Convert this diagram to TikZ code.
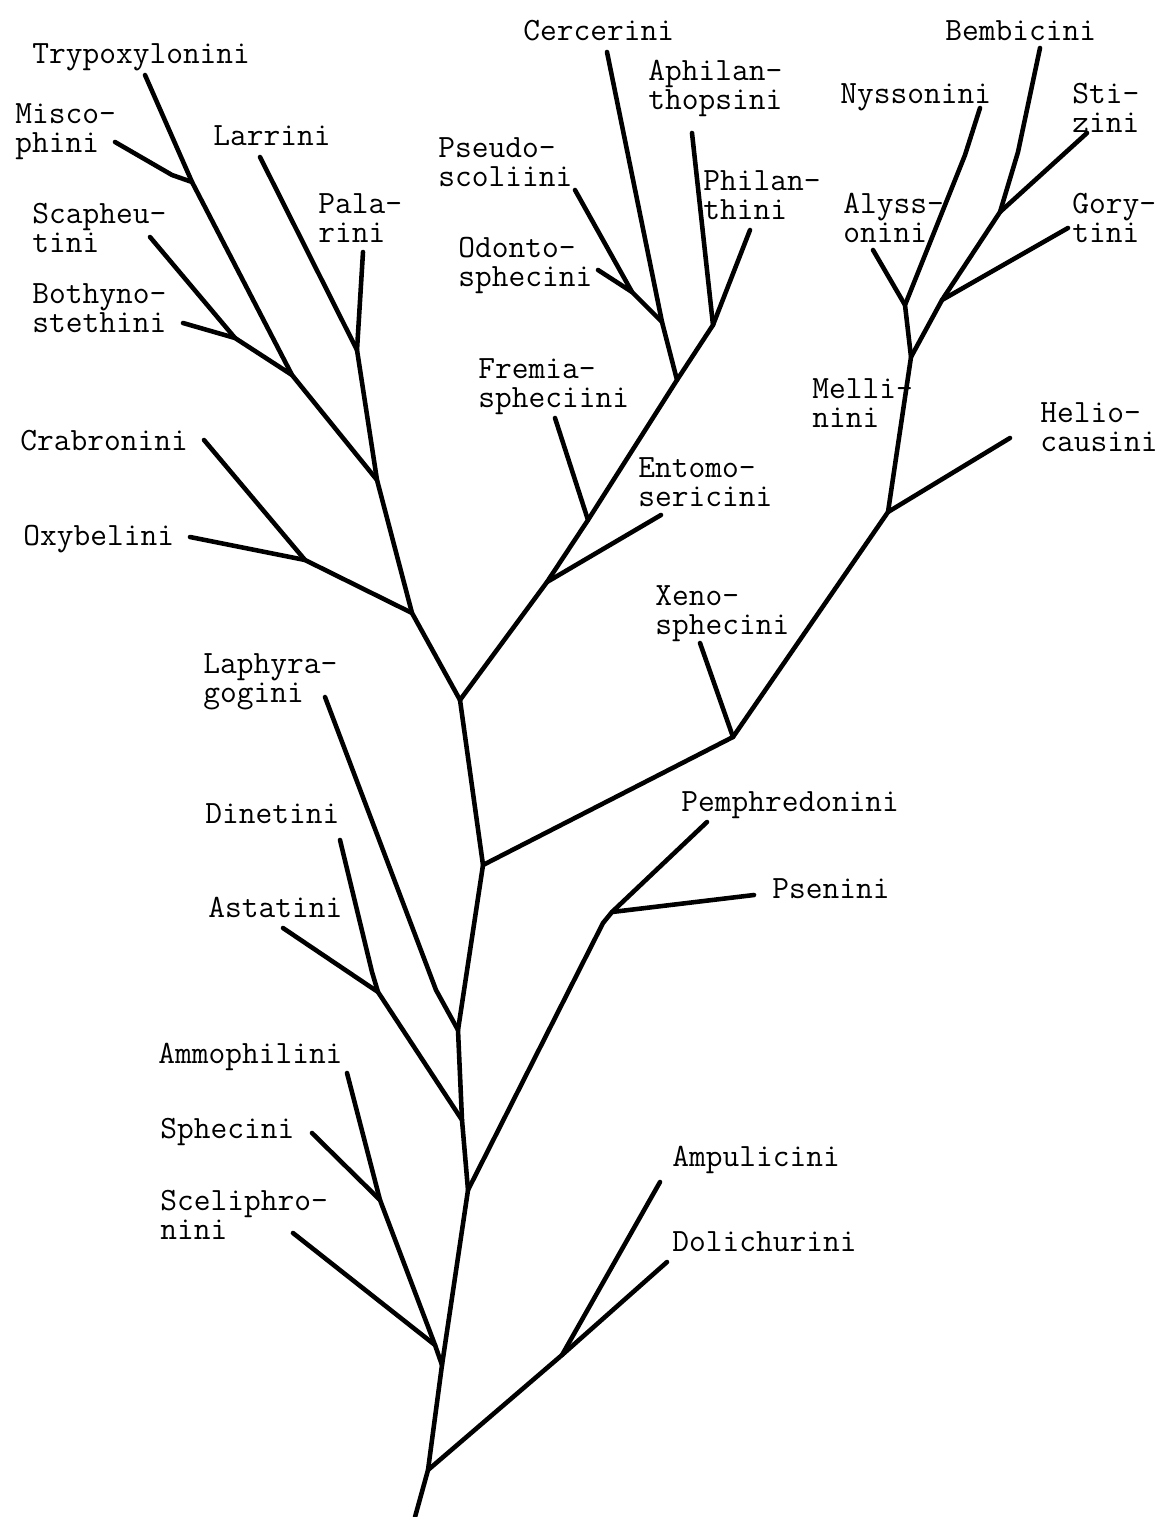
\documentclass[tikz,border=0pt]{standalone}
\usepackage{tikz}
\usetikzlibrary{positioning,calc}

\begin{document}
\begin{tikzpicture}[
        x=0.02cm, y=-0.02cm, % coordenadas en pixeles del dibujo original
        rama/.style={line width=2.6pt, line cap=round, line join=round},
        taxon/.style={anchor=north west, inner sep=0pt, align=left,
            font=\ttfamily\fontsize{18.5}{16.5}\selectfont}
    ]

        \useasboundingbox (0,0) rectangle (1165,1517);

        % --- TRONCO PRINCIPAL ---
        \coordinate (base) at (415,1517);
        \coordinate (nA) at (428,1470);
        \coordinate (nC) at (442,1365);
        \coordinate (nD) at (468,1190);
        \coordinate (nE) at (462,1120);
        \coordinate (nF) at (458,1030);
        \coordinate (nH) at (483,865);
        \coordinate (nL) at (460,700);
        \draw[rama] (base) -- (nA) -- (nC) -- (nD) -- (nE) -- (nF) -- (nH) -- (nL);

        % --- AMPULICIDAE ---
        \coordinate (nB) at (562,1355);
        \coordinate (lAmpu) at (660,1182);
        \coordinate (lDoli) at (667,1262);
        \draw[rama] (nA) -- (nB) -- (lAmpu);
        \draw[rama] (nB) -- (lDoli);

        % --- SPHECINAE ---
        \coordinate (nSph) at (380,1200);
        \coordinate (nSc) at (435,1345);
        \coordinate (lAmmo) at (347,1073);
        \coordinate (lSphe) at (312,1133);
        \coordinate (lScel) at (293,1233);
        \draw[rama] (nC) -- (nSc) -- (nSph) -- (lAmmo);
        \draw[rama] (nSph) -- (lSphe);
        \draw[rama] (nSc) -- (lScel);

        % --- ASTATINAE Y LAPHYRAGOGINI ---
        \coordinate (nAs) at (378,992);
        \coordinate (lAsta) at (283,928);
        \coordinate (kDine) at (372,972);
        \coordinate (lDine) at (340,840);
        \coordinate (kLaph) at (436,990);
        \coordinate (lLaph) at (325,697);
        \draw[rama] (nE) -- (nAs) -- (lAsta);
        \draw[rama] (nAs) -- (kDine) -- (lDine);
        \draw[rama] (nF) -- (kLaph) -- (lLaph);

        % --- PEMPHREDONINAE ---
        \coordinate (kG) at (603,923);
        \coordinate (nG) at (612,912);
        \coordinate (lPemp) at (707,822);
        \coordinate (lPsen) at (754,895);
        \draw[rama] (nD) -- (kG) -- (nG) -- (lPemp);
        \draw[rama] (nG) -- (lPsen);

        % --- NYSSONINAE ---
        \coordinate (nI) at (733,737);
        \coordinate (lXeno) at (700,643);
        \coordinate (nJ) at (888,512);
        \coordinate (lHeli) at (1010,438);
        \coordinate (nK) at (911,357);
        \coordinate (nAN) at (905,305);
        \coordinate (lAlys) at (873,250);
        \coordinate (kNyss) at (965,155);
        \coordinate (lNyss) at (980,108);
        \coordinate (nGo) at (942,300);
        \coordinate (lGory) at (1068,228);
        \coordinate (nSB) at (1000,212);
        \coordinate (lStiz) at (1087,133);
        \coordinate (kBemb) at (1018,152);
        \coordinate (lBemb) at (1040,48);
        \draw[rama] (nH) -- (nI) -- (nJ) -- (nK) -- (nAN) -- (kNyss) -- (lNyss);
        \draw[rama] (nI) -- (lXeno);
        \draw[rama] (nJ) -- (lHeli);
        \draw[rama] (nAN) -- (lAlys);
        \draw[rama] (nK) -- (nGo) -- (nSB) -- (kBemb) -- (lBemb);
        \draw[rama] (nGo) -- (lGory);
        \draw[rama] (nSB) -- (lStiz);

        % --- PHILANTHINAE ---
        \coordinate (nM) at (547,582);
        \coordinate (lEnto) at (661,515);
        \coordinate (nN) at (588,520);
        \coordinate (lFrem) at (555,418);
        \coordinate (nO) at (677,380);
        \coordinate (nCP) at (662,322);
        \coordinate (lCerc) at (607,52);
        \coordinate (nPO) at (632,292);
        \coordinate (lPseu) at (575,190);
        \coordinate (lOdon) at (598,270);
        \coordinate (nAP) at (713,325);
        \coordinate (lAphi) at (692,133);
        \coordinate (lPhil) at (750,230);
        \draw[rama] (nL) -- (nM) -- (nN) -- (nO) -- (nCP) -- (lCerc);
        \draw[rama] (nM) -- (lEnto);
        \draw[rama] (nN) -- (lFrem);
        \draw[rama] (nCP) -- (nPO) -- (lPseu);
        \draw[rama] (nPO) -- (lOdon);
        \draw[rama] (nO) -- (nAP) -- (lAphi);
        \draw[rama] (nAP) -- (lPhil);

        % --- CRABRONINAE ---
        \coordinate (nP) at (412,613);
        \coordinate (nCO) at (305,560);
        \coordinate (lCrab) at (204,440);
        \coordinate (lOxyb) at (190,537);
        \coordinate (nQ) at (377,480);
        \coordinate (nR) at (357,350);
        \coordinate (lPala) at (363,252);
        \coordinate (lLarr) at (260,157);
        \coordinate (nS) at (292,375);
        \coordinate (nTM) at (192,182);
        \coordinate (lTryp) at (145,75);
        \coordinate (kMisc) at (172,175);
        \coordinate (lMisc) at (115,142);
        \coordinate (nSB2) at (235,338);
        \coordinate (lScap) at (150,237);
        \coordinate (lBoth) at (183,323);
        \draw[rama] (nL) -- (nP) -- (nQ) -- (nR) -- (lPala);
        \draw[rama] (nR) -- (lLarr);
        \draw[rama] (nP) -- (nCO) -- (lCrab);
        \draw[rama] (nCO) -- (lOxyb);
        \draw[rama] (nQ) -- (nS) -- (nTM) -- (lTryp);
        \draw[rama] (nTM) -- (kMisc) -- (lMisc);
        \draw[rama] (nS) -- (nSB2) -- (lScap);
        \draw[rama] (nSB2) -- (lBoth);

        % --- NOMBRES DE LAS TRIBUS ---
        \node[taxon] (tTryp) at (32,43) {Trypoxylonini};
        \node[taxon] (tMisc) at (15,103) {Misco-\\phini};
        \node[taxon] (tLarr) at (213,125) {Larrini};
        \node[taxon] (tPala) at (318,193) {Pala-\\rini};
        \node[taxon] (tScap) at (32,203) {Scapheu-\\tini};
        \node[taxon] (tBoth) at (32,283) {Bothyno-\\stethini};
        \node[taxon] (tCrab) at (20,430) {Crabronini};
        \node[taxon] (tOxyb) at (23,525) {Oxybelini};
        \node[taxon] (tLaph) at (203,653) {Laphyra-\\gogini};
        \node[taxon] (tDine) at (205,803) {Dinetini};
        \node[taxon] (tAsta) at (208,897) {Astatini};
        \node[taxon] (tAmmo) at (158,1043) {Ammophilini};
        \node[taxon] (tSphe) at (160,1118) {Sphecini};
        \node[taxon] (tScel) at (160,1190) {Sceliphro-\\nini};
        \node[taxon] (tAmpu) at (672,1146) {Ampulicini};
        \node[taxon] (tDoli) at (672,1231) {Dolichurini};
        \node[taxon] (tPemp) at (681,791) {Pemphredonini};
        \node[taxon] (tPsen) at (772,878) {Psenini};
        \node[taxon] (tXeno) at (655,585) {Xeno-\\sphecini};
        \node[taxon] (tEnto) at (638,457) {Entomo-\\sericini};
        \node[taxon] (tFrem) at (478,358) {Fremia-\\spheciini};
        \node[taxon] (tOdon) at (458,237) {Odonto-\\sphecini};
        \node[taxon] (tPseu) at (438,137) {Pseudo-\\scoliini};
        \node[taxon] (tCerc) at (523,20) {Cercerini};
        \node[taxon] (tAphi) at (648,60) {Aphilan-\\thopsini};
        \node[taxon] (tPhil) at (703,170) {Philan-\\thini};
        \node[taxon] (tNyss) at (840,83) {Nyssonini};
        \node[taxon] (tBemb) at (945,20) {Bembicini};
        \node[taxon] (tStiz) at (1072,83) {Sti-\\zini};
        \node[taxon] (tAlys) at (843,193) {Alyss-\\onini};
        \node[taxon] (tGory) at (1072,193) {Gory-\\tini};
        \node[taxon] (tMell) at (812,378) {Melli-\\nini};
        \node[taxon] (tHeli) at (1040,402) {Helio-\\causini};

    \end{tikzpicture}
\end{document}
